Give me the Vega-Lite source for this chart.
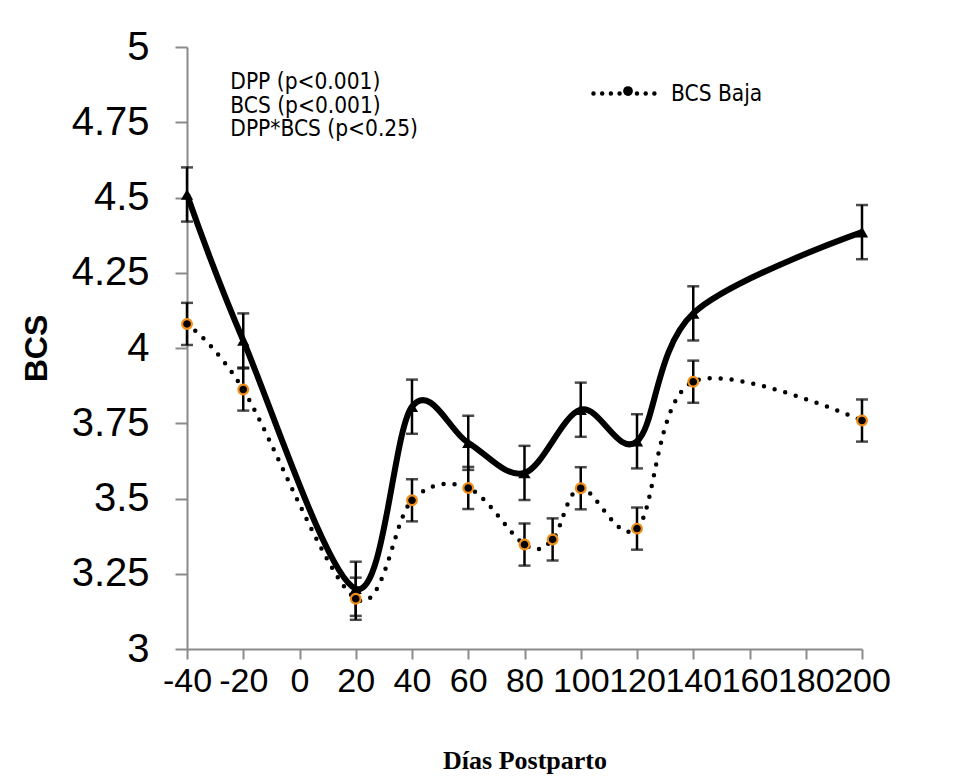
{
  "$schema": "https://vega.github.io/schema/vega-lite/v6.json",
  "width": 675,
  "height": 602,
  "autosize": "none",
  "padding": {"left": 187, "top": 47, "right": 111, "bottom": 135},
  "background": "white",
  "config": {"view": {"stroke": null}},
  "data": {
    "values": [
      {"serie": "BCS Alta", "dia": -40, "bcs": 4.51, "lo": 4.42, "hi": 4.60},
      {"serie": "BCS Alta", "dia": -20, "bcs": 4.025, "lo": 3.935, "hi": 4.115},
      {"serie": "BCS Alta", "dia": 20, "bcs": 3.20, "lo": 3.11, "hi": 3.29},
      {"serie": "BCS Alta", "dia": 40, "bcs": 3.805, "lo": 3.715, "hi": 3.895},
      {"serie": "BCS Alta", "dia": 60, "bcs": 3.685, "lo": 3.595, "hi": 3.775},
      {"serie": "BCS Alta", "dia": 80, "bcs": 3.585, "lo": 3.495, "hi": 3.675},
      {"serie": "BCS Alta", "dia": 100, "bcs": 3.795, "lo": 3.705, "hi": 3.885},
      {"serie": "BCS Alta", "dia": 120, "bcs": 3.69, "lo": 3.60, "hi": 3.78},
      {"serie": "BCS Alta", "dia": 140, "bcs": 4.115, "lo": 4.025, "hi": 4.205},
      {"serie": "BCS Alta", "dia": 200, "bcs": 4.385, "lo": 4.295, "hi": 4.475},
      {"serie": "BCS Baja", "dia": -40, "bcs": 4.08, "lo": 4.01, "hi": 4.15},
      {"serie": "BCS Baja", "dia": -20, "bcs": 3.862, "lo": 3.792, "hi": 3.932},
      {"serie": "BCS Baja", "dia": 20, "bcs": 3.167, "lo": 3.097, "hi": 3.237},
      {"serie": "BCS Baja", "dia": 40, "bcs": 3.494, "lo": 3.424, "hi": 3.564},
      {"serie": "BCS Baja", "dia": 60, "bcs": 3.535, "lo": 3.465, "hi": 3.605},
      {"serie": "BCS Baja", "dia": 80, "bcs": 3.347, "lo": 3.277, "hi": 3.417},
      {"serie": "BCS Baja", "dia": 90, "bcs": 3.364, "lo": 3.294, "hi": 3.434},
      {"serie": "BCS Baja", "dia": 100, "bcs": 3.534, "lo": 3.464, "hi": 3.604},
      {"serie": "BCS Baja", "dia": 120, "bcs": 3.40, "lo": 3.33, "hi": 3.47},
      {"serie": "BCS Baja", "dia": 140, "bcs": 3.888, "lo": 3.818, "hi": 3.958},
      {"serie": "BCS Baja", "dia": 200, "bcs": 3.759, "lo": 3.689, "hi": 3.829}
    ]
  },
  "encoding": {
    "x": {
      "field": "dia",
      "type": "quantitative",
      "title": "Días Postparto",
      "scale": {"domain": [-40, 200], "nice": false, "zero": false},
      "axis": {
        "values": [-40, -20, 0, 20, 40, 60, 80, 100, 120, 140, 160, 180, 200],
        "labelExpr": "'' + datum.value",
        "grid": false,
        "domainColor": "#8a8a8a",
        "domainWidth": 2,
        "tickColor": "#8a8a8a",
        "tickWidth": 2,
        "tickSize": 10,
        "labelFont": "Liberation Sans",
        "labelFontSize": 34,
        "labelColor": "black",
        "labelPadding": 5,
        "labelOverlap": false,
        "labelFlush": false,
        "labelBound": false,
        "titleFont": "Liberation Serif",
        "titleFontWeight": "bold",
        "titleFontSize": 26,
        "titleColor": "black",
        "titlePadding": 49
      }
    },
    "y": {
      "field": "bcs",
      "type": "quantitative",
      "title": "BCS",
      "scale": {"domain": [3, 5], "nice": false, "zero": false},
      "axis": {
        "values": [3, 3.25, 3.5, 3.75, 4, 4.25, 4.5, 4.75, 5],
        "labelExpr": "'' + datum.value",
        "grid": false,
        "domainColor": "#8a8a8a",
        "domainWidth": 2,
        "tickColor": "#8a8a8a",
        "tickWidth": 2,
        "tickSize": 12,
        "labelFont": "Liberation Sans",
        "labelFontSize": 40,
        "labelColor": "black",
        "labelPadding": 26,
        "labelOverlap": false,
        "labelBound": false,
        "titleFont": "Liberation Sans",
        "titleFontWeight": "bold",
        "titleFontSize": 32,
        "titleColor": "black",
        "titlePadding": 18
      }
    }
  },
  "layer": [
    {
      "transform": [{"filter": "datum.serie === 'BCS Alta'"}],
      "mark": {"type": "line", "interpolate": "cardinal", "tension": 0, "color": "black", "strokeWidth": 6, "strokeJoin": "round"}
    },
    {
      "transform": [{"filter": "datum.serie === 'BCS Baja'"}],
      "mark": {"type": "line", "interpolate": "cardinal", "tension": 0, "strokeWidth": 4.5, "strokeCap": "round", "strokeDash": [0, 11]},
      "encoding": {
        "stroke": {
          "field": "serie",
          "type": "nominal",
          "scale": {"domain": ["BCS Baja"], "range": ["black"]},
          "legend": {
            "orient": "none",
            "legendX": 404,
            "legendY": 12,
            "title": null,
            "symbolType": "stroke",
            "symbolSize": 4100,
            "symbolStrokeWidth": 4.5,
            "symbolDash": [0, 8.7],
            "labelFont": "DejaVu Sans Condensed",
            "labelFontSize": 22.5,
            "labelColor": "black",
            "labelOffset": 11,
            "encode": {"symbols": {"update": {"strokeCap": {"value": "round"}, "strokeDash": {"value": [0, 8.7]}}}}
          }
        }
      }
    },
    {
      "mark": {"type": "rule", "color": "black", "strokeWidth": 2.5},
      "encoding": {"y": {"field": "lo", "type": "quantitative"}, "y2": {"field": "hi"}}
    },
    {
      "mark": {"type": "tick", "orient": "horizontal", "color": "black", "size": 12, "thickness": 2.5},
      "encoding": {"y": {"field": "lo", "type": "quantitative"}}
    },
    {
      "mark": {"type": "tick", "orient": "horizontal", "color": "black", "size": 12, "thickness": 2.5},
      "encoding": {"y": {"field": "hi", "type": "quantitative"}}
    },
    {
      "transform": [{"filter": "datum.serie === 'BCS Alta'"}],
      "mark": {"type": "point", "filled": true, "shape": "triangle-up", "size": 150, "color": "black", "opacity": 1}
    },
    {
      "transform": [{"filter": "datum.serie === 'BCS Baja'"}],
      "mark": {"type": "point", "filled": true, "fill": "black", "stroke": "#f0901a", "strokeWidth": 2.2, "size": 95, "opacity": 1},
      "encoding": {
        "shape": {
          "field": "serie",
          "type": "nominal",
          "scale": {"range": ["circle"]},
          "legend": {
            "orient": "none",
            "legendX": 435,
            "legendY": 38,
            "title": null,
            "labelExpr": "''",
            "symbolSize": 95,
            "symbolFillColor": "black",
            "symbolStrokeColor": "#f0901a",
            "symbolStrokeWidth": 2.2,
            "zindex": 2,
            "encode": {"symbols": {"update": {"fill": {"value": "black"}, "stroke": {"value": "#f0901a"}, "strokeWidth": {"value": 2.2}, "opacity": {"value": 1}}}}
          }
        }
      }
    },
    {
      "transform": [{"filter": "datum.serie === 'BCS Alta' && datum.dia === -40"}],
      "mark": {"type": "text", "align": "left", "baseline": "alphabetic", "font": "DejaVu Sans Condensed", "fontSize": 22.5, "lineHeight": 23.5, "color": "black"},
      "encoding": {
        "x": {"datum": -24.6},
        "y": {"datum": 4.86},
        "text": {"value": ["DPP (p<0.001)", "BCS (p<0.001)", "DPP*BCS (p<0.25)"]}
      }
    }
  ]
}
